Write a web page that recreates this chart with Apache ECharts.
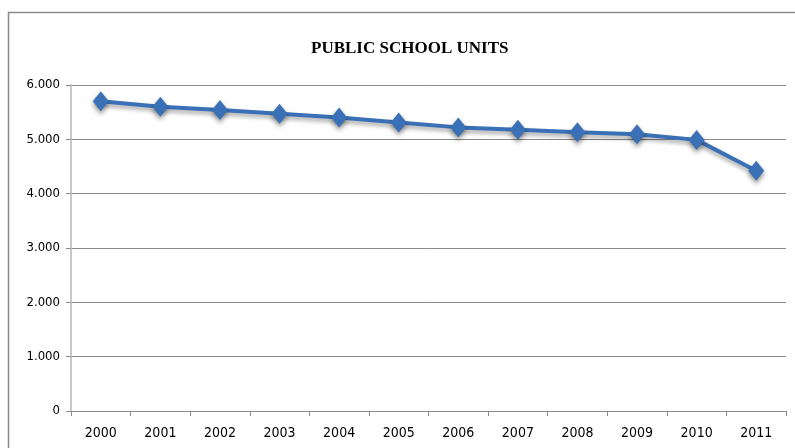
<!DOCTYPE html>
<html>
<head>
<meta charset="utf-8">
<script src="https://cdn.jsdelivr.net/npm/echarts@6/dist/echarts.min.js"></script>
<style>html,body{margin:0;padding:0;background:#fff;}#c{width:795px;height:448px;}</style>
</head>
<body>
<div id="c"></div>
<script>
var years = ['2000','2001','2002','2003','2004','2005','2006','2007','2008','2009','2010','2011'];
var units = [5700, 5600, 5540, 5470, 5400, 5310, 5220, 5175, 5130, 5093, 4990, 4420];
var titleText = 'PUBLIC SCHOOL UNITS';

var chart = echarts.init(document.getElementById('c'));
var labelFont = "'Liberation Sans Narrow', 'DejaVu Sans Condensed', sans-serif";
chart.setOption({
  animation: false,
  backgroundColor: '#fff',
  graphic: [{
    type: 'rect', shape: {x: 8.5, y: 12.5, width: 900, height: 600},
    style: {fill: 'none', stroke: '#8a8a8a', lineWidth: 1.5}, silent: true, z: -1
  }],
  title: {
    text: titleText, left: 306, top: 35,
    textStyle: {fontFamily: "'Liberation Serif', serif", fontSize: 17, fontWeight: 'bold', color: '#000'}
  },
  grid: {left: 71, right: 9, top: 85, bottom: 37, containLabel: false},
  xAxis: {
    type: 'category', data: years, boundaryGap: true,
    axisLine: {lineStyle: {color: '#8a8a8a', width: 1}},
    axisTick: {show: true, length: 5, lineStyle: {color: '#8a8a8a'}},
    axisLabel: {margin: 15, color: '#000', fontFamily: labelFont, fontSize: 14}
  },
  yAxis: {
    type: 'value', min: 0, max: 6000, interval: 1000,
    axisLine: {show: true, lineStyle: {color: '#c8c8c8', width: 2}},
    axisTick: {show: true, length: 5, lineStyle: {color: '#8a8a8a'}},
    splitLine: {lineStyle: {color: '#8a8a8a', width: 1}},
    axisLabel: {
      margin: 11, color: '#000', fontFamily: labelFont, fontSize: 13,
      formatter: function (v) { return v === 0 ? '0' : (v / 1000) + '.000'; }
    }
  },
  series: [{
    type: 'line', data: units,
    lineStyle: {color: '#3a70b5', width: 4, shadowBlur: 4, shadowColor: 'rgba(0,0,0,0.35)', shadowOffsetY: 3},
    itemStyle: {color: '#3a70b5', shadowBlur: 5, shadowColor: 'rgba(0,0,0,0.45)', shadowOffsetY: 3},
    symbol: 'diamond', symbolSize: [16, 20], showSymbol: true
  }]
});
</script>
</body>
</html>
